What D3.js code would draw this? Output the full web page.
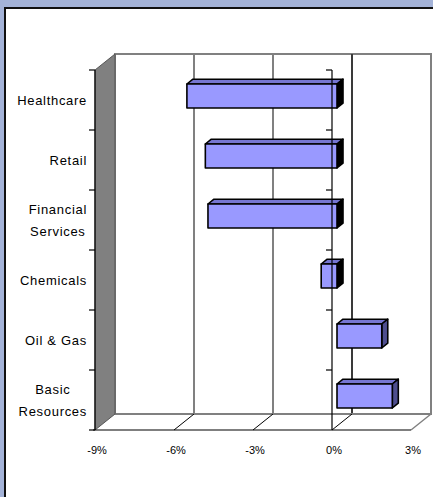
<!DOCTYPE html>
<html><head><meta charset="utf-8">
<script src="https://cdn.jsdelivr.net/npm/d3@7"></script>
<style>html,body{margin:0;padding:0;background:#A4B3D8;}svg{display:block;}</style>
</head><body>
<svg id="chart" width="433" height="497"></svg>
<script>
const categories = [["Healthcare"], ["Retail"], ["Financial", "Services"], ["Chemicals"], ["Oil & Gas"], ["Basic", "Resources"]];
const values = [-5.7, -5.0, -4.9, -0.6, 1.7, 2.1];
const tickValues = [-9, -6, -3, 0, 3];
const tickLabels = ["-9%", "-6%", "-3%", "0%", "3%"];

(function(){
const svg = d3.select("#chart");
svg.append("rect").attr("x",0).attr("y",0).attr("width",433).attr("height",497).attr("fill","#A4B3D8");
svg.append("rect").attr("x",5).attr("y",8).attr("width",440).attr("height",500)
  .attr("fill","#fff").attr("stroke","#111").attr("stroke-width",2);

const DX = 20, DY = 16;
const x = d3.scaleLinear().domain([-9, 3]).range([95, 411]);
const y = d3.scaleBand().domain(categories.map((c,i)=>i)).range([70, 430]).paddingInner(0).paddingOuter(0);
const yTop = 70, yBot = 430;
const line = d3.line();

svg.append("rect").attr("x", x(-9)+DX).attr("y", yTop-DY).attr("width", x(3)-x(-9)).attr("height", yBot-yTop)
  .attr("fill","#fff").attr("stroke","#808080").attr("stroke-width",2);
tickValues.slice(1,4).forEach(t=>{
  svg.append("line").attr("x1", x(t)+DX).attr("x2", x(t)+DX).attr("y1", yTop-DY).attr("y2", yBot-DY)
    .attr("stroke", t===0 ? "#3a3a3a" : "#808080").attr("stroke-width",2);
});
svg.append("path").attr("d", line([[x(-9),yBot],[x(-9)+DX,yBot-DY],[x(3)+DX,yBot-DY],[x(3),yBot]]))
  .attr("fill","#fff").attr("stroke","none");
svg.append("line").attr("x1",x(-9)+DX).attr("x2",x(3)+DX).attr("y1",yBot-DY).attr("y2",yBot-DY)
  .attr("stroke","#808080").attr("stroke-width",2);
svg.append("line").attr("x1",x(3)).attr("y1",yBot).attr("x2",x(3)+DX).attr("y2",yBot-DY)
  .attr("stroke","#808080").attr("stroke-width",1.5);
tickValues.slice(1,4).forEach(t=>{
  svg.append("line").attr("x1",x(t)).attr("y1",yBot).attr("x2",x(t)+DX).attr("y2",yBot-DY)
    .attr("stroke","#000").attr("stroke-width",1);
});
svg.append("path").attr("d", line([[x(-9),yTop],[x(-9)+DX,yTop-DY],[x(-9)+DX,yBot-DY],[x(-9),yBot]])+"Z")
  .attr("fill","#808080").attr("stroke","#555").attr("stroke-width",1);

const d1 = 0.25, d2 = 0.55;
const bh = y.bandwidth()*0.4;
values.forEach((v,i)=>{
  const ox = DX*d1, oy = DY*d1;
  const ddx = DX*(d2-d1), ddy = DY*(d2-d1);
  const x0 = x(Math.min(v,0))+ox, x1 = x(Math.max(v,0))+ox;
  const yc = y(i) + y.bandwidth()/2 - oy;
  const y0 = yc - bh/2, y1 = yc + bh/2;
  const g = svg.append("g").attr("stroke","#000").attr("stroke-width",1.6).attr("stroke-linejoin","round");
  g.append("path").attr("d", line([[x0,y0],[x0+ddx,y0-ddy],[x1+ddx,y0-ddy],[x1,y0]])+"Z").attr("fill","#7676D2");
  g.append("path").attr("d", line([[x1,y0],[x1+ddx,y0-ddy],[x1+ddx,y1-ddy],[x1,y1]])+"Z").attr("fill", v<0 ? "#000" : "#4E4E8E");
  g.append("rect").attr("x",x0).attr("y",y0).attr("width",x1-x0).attr("height",y1-y0).attr("fill","#9999FF");
});

const axG = svg.append("g").attr("stroke","#000").attr("stroke-width",1.2);
axG.append("line").attr("x1",x(-9)).attr("x2",x(-9)).attr("y1",yTop).attr("y2",yBot);
axG.append("line").attr("x1",x(0)).attr("x2",x(0)).attr("y1",yTop).attr("y2",yBot);
axG.append("line").attr("x1",x(-9)-2).attr("x2",x(3)).attr("y1",yBot).attr("y2",yBot);
const bounds = d3.range(categories.length+1).map(i=> i<categories.length ? y(i) : yBot);
bounds.forEach(b=>{
  axG.append("line").attr("x1",x(-9)-6).attr("x2",x(-9)).attr("y1",b).attr("y2",b);
  if (b<yBot) axG.append("line").attr("x1",x(0)-6).attr("x2",x(0)).attr("y1",b).attr("y2",b);
});

svg.append("g").selectAll("text").data(tickValues).join("text")
  .attr("x", t=>x(t)+2).attr("y", 454).attr("text-anchor","middle")
  .attr("font-family","Liberation Sans, Arial, sans-serif").attr("font-size",11).attr("fill","#000")
  .text((t,i)=>tickLabels[i]);

categories.forEach((lines,i)=>{
  const yc = y(i)+y.bandwidth()/2;
  const g = svg.append("g");
  const texts = lines.map((l,k)=> g.append("text")
    .attr("y", yc + (k-(lines.length-1)/2)*22 + 4.5)
    .attr("font-family","Liberation Sans, Arial, sans-serif").attr("font-size",13)
    .attr("letter-spacing","0.7px").attr("text-anchor","middle").attr("fill","#000").text(l));
  const w = d3.max(texts, t=>t.node().getComputedTextLength());
  texts.forEach(t=>t.attr("x", 87 - w/2));
});
})();
</script>
</body></html>
